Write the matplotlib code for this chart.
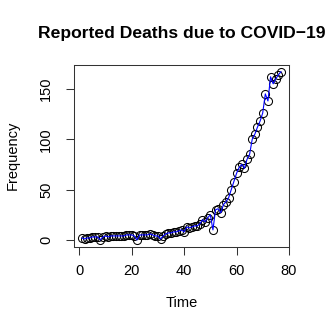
import matplotlib
matplotlib.use("Agg")
import matplotlib.pyplot as plt

days = list(range(1, 78))
deaths = [2, 1, 2, 2, 3, 3, 3, 0, 3, 4,
          3, 4, 4, 4, 4, 4, 4, 5, 5, 5,
          4, 0, 5, 5, 5, 5, 6, 5, 4, 4,
          1, 4, 6, 7, 7, 8, 8, 9, 10, 8,
          13, 12, 13, 14, 14, 16, 20, 18, 22, 25,
          10, 30, 31, 27, 35, 38, 42, 50, 58, 66,
          72, 75, 71, 80, 85, 100, 105, 112, 118, 126,
          145, 138, 162, 155, 160, 164, 167]
xticks = [0, 20, 40, 60, 80]
yticks = [0, 50, 100, 150]

plt.rcParams['font.family'] = ['Liberation Sans', 'DejaVu Sans']

fig = plt.figure(figsize=(3.27, 3.27), dpi=100)
W = H = 327.0
ax = fig.add_axes([74 / W, (H - 246.7) / H, (289 - 74) / W, (246.7 - 65) / H])

ax.plot(days, deaths, linestyle='none', marker='o', markersize=5.8,
        markerfacecolor='none', markeredgecolor='black', markeredgewidth=0.75, zorder=2)
ax.plot(days, deaths, color='blue', linewidth=0.8, zorder=3)

xr = max(days) - min(days)
ax.set_xlim(min(days) - 0.04 * xr, max(days) + 0.04 * xr)
yr = max(deaths) - min(deaths)
ax.set_ylim(min(deaths) - 0.04 * yr, max(deaths) + 0.04 * yr)

FS = 10.5
ax.set_xticks(xticks)
ax.set_yticks(yticks)
ax.set_xticklabels([str(t) for t in xticks], fontsize=FS)
ax.set_yticklabels([str(t) for t in yticks], fontsize=FS, rotation=90, va='center')
ax.tick_params(axis='both', direction='out', length=6, width=0.75, color='#333333')
ax.tick_params(axis='x', pad=6.5)
ax.tick_params(axis='y', pad=9)
for s in ax.spines.values():
    s.set_linewidth(0.75)
    s.set_color('#333333')

fig.text(181.5 / W, 1 - 38.3 / H, 'Reported Deaths due to COVID\u221219', ha='center', va='baseline',
         fontsize=FS * 1.2, fontweight='bold')
fig.text(181.5 / W, 1 - 306.7 / H, 'Time', ha='center', va='baseline', fontsize=FS)
fig.text(12.5 / W, 1 - 155 / H, 'Frequency', ha='center', va='center', fontsize=FS, rotation=90)

fig.savefig('out.png', dpi=100)
